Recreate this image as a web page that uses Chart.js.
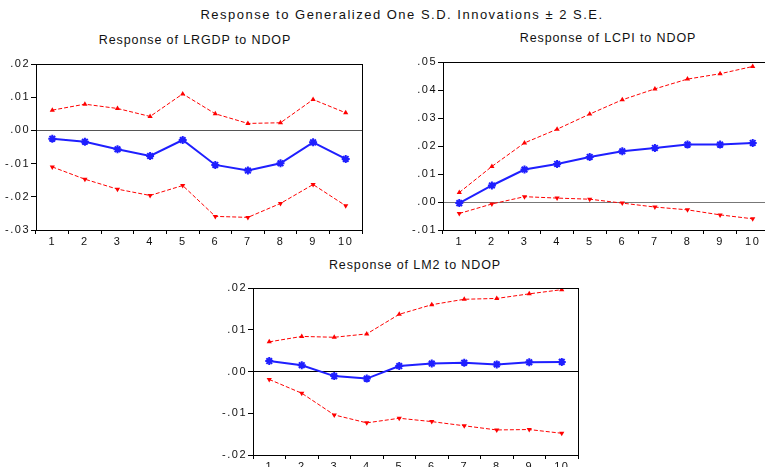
<!doctype html>
<html>
<head>
<title>Impulse responses to NDOP</title>
<script src="https://cdn.jsdelivr.net/npm/chart.js@4.4.1/dist/chart.umd.min.js"></script>
<style>
    body { margin: 0; background: #fff; font-family: "Liberation Sans", Arial, sans-serif; }
    #page { position: relative; width: 765px; height: 467px; overflow: hidden; color: #111; }
    .ttl { position: absolute; text-align: center; white-space: nowrap; }
    #mainTitle { left: 102px; top: 7px; width: 600px; font-size: 13px; letter-spacing: 1.5px; }
    .sub { width: 300px; font-size: 12.5px; letter-spacing: 0.9px; }
    canvas { position: absolute; }
</style>
</head>

<body>
<div id="page">
    <div id="mainTitle" class="ttl">Response to Generalized One S.D. Innovations &plusmn; 2 S.E.</div>
    <div class="ttl sub" style="left:45px;top:33px">Response of LRGDP to NDOP</div>
    <div class="ttl sub" style="left:458px;top:31px">Response of LCPI to NDOP</div>
    <div class="ttl sub" style="left:265px;top:258px">Response of LM2 to NDOP</div>
    <canvas id="c1" width="368" height="194" style="left:0px;top:56px"></canvas>
    <canvas id="c2" width="368" height="196" style="left:407px;top:54px"></canvas>
    <canvas id="c3" width="367" height="195" style="left:217px;top:280px"></canvas>
</div>
<script>
    // periods after the shock
    const periods = ['1', '2', '3', '4', '5', '6', '7', '8', '9', '10'];

    // LRGDP to NDOP
    const lrgdpResp  = [-0.0025, -0.0034, -0.0057, -0.0077, -0.0029, -0.0104, -0.0121, -0.0099, -0.0036, -0.0086];
    const lrgdpUpper = [0.0061, 0.0079, 0.0066, 0.0042, 0.0110, 0.0050, 0.0021, 0.0023, 0.0093, 0.0053];
    const lrgdpLower = [-0.0110, -0.0147, -0.0177, -0.0196, -0.0166, -0.0259, -0.0262, -0.0220, -0.0163, -0.0227];
    const lrgdpRange = [-0.03, 0.02];

    // LCPI to NDOP
    const lcpiResp  = [-0.0004, 0.0059, 0.0116, 0.0136, 0.0161, 0.0181, 0.0193, 0.0205, 0.0205, 0.0211];
    const lcpiUpper = [0.0034, 0.0127, 0.0211, 0.0260, 0.0314, 0.0365, 0.0404, 0.0439, 0.0458, 0.0484];
    const lcpiLower = [-0.0041, -0.0007, 0.0019, 0.0014, 0.0010, -0.0004, -0.0018, -0.0028, -0.0046, -0.0060];
    const lcpiRange = [-0.01, 0.05];

    // LM2 to NDOP
    const lm2Resp  = [0.0025, 0.0015, -0.0011, -0.0017, 0.0013, 0.0019, 0.0021, 0.0017, 0.0022, 0.0023];
    const lm2Upper = [0.0071, 0.0084, 0.0082, 0.0090, 0.0137, 0.0160, 0.0173, 0.0175, 0.0186, 0.0196];
    const lm2Lower = [-0.0019, -0.0052, -0.0104, -0.0123, -0.0112, -0.0120, -0.0130, -0.0140, -0.0139, -0.0148];
    const lm2Range = [-0.02, 0.02];

    const tickFont = { family: '"Liberation Sans", Arial, sans-serif', size: 11 };

    // eviews style ".01" / "-.02"
    function fmt(v) {
        if (Math.abs(v) < 1e-9) return '.00';
        const s = Math.abs(v).toFixed(2).replace(/^0/, '');
        return (v < 0 ? '-' : '') + s;
    }

    // wide eviews lettering for the tick labels
    const spacingPlugin = {
        id: 'spacing',
        beforeDraw(chart) { chart.ctx.letterSpacing = '1.5px'; }
    };

    // full box round the plot
    const boxPlugin = {
        id: 'box',
        afterDatasetsDraw(chart) {
            const a = chart.chartArea;
            const ctx = chart.ctx;
            ctx.save();
            ctx.strokeStyle = '#000';
            ctx.lineWidth = 1;
            ctx.strokeRect(Math.round(a.left) + 0.5, Math.round(a.top) + 0.5,
                           Math.round(a.right - a.left), Math.round(a.bottom - a.top));
            ctx.restore();
        }
    };

    function makeChart(id, resp, upper, lower, range, zeroColor) {
        const ctx = document.getElementById(id);
        return new Chart(ctx, {
            type: 'line',
            data: {
                labels: periods,
                datasets: [{
                    data: upper,
                    borderColor: '#ff0000',
                    backgroundColor: '#ff0000',
                    borderWidth: 1,
                    borderDash: [4, 2],
                    pointStyle: 'triangle',
                    pointRadius: 3,
                    pointBorderWidth: 0,
                    order: 2
                }, {
                    data: lower,
                    borderColor: '#ff0000',
                    backgroundColor: '#ff0000',
                    borderWidth: 1,
                    borderDash: [4, 2],
                    pointStyle: 'triangle',
                    pointRotation: 180,
                    pointRadius: 3,
                    pointBorderWidth: 0,
                    order: 2
                }, {
                    data: resp,
                    borderColor: '#1f1fff',
                    backgroundColor: '#1f1fff',
                    borderWidth: 2,
                    pointStyle: 'star',
                    pointRadius: 4,
                    pointBorderWidth: 2,
                    order: 1
                }]
            },
            options: {
                responsive: false,
                animation: false,
                devicePixelRatio: 1,
                layout: { padding: { top: 8, right: 4, bottom: 0, left: 0 } },
                plugins: {
                    legend: { display: false },
                    tooltip: { enabled: false },
                    title: { display: false }
                },
                scales: {
                    x: {
                        offset: true,
                        grid: { display: true, drawOnChartArea: false, offset: true, tickLength: 4, tickColor: '#000' },
                        border: { color: '#000' },
                        ticks: { color: '#111', font: tickFont, padding: 1, maxRotation: 0 },
                        afterFit: s => { s.height = 20; }
                    },
                    y: {
                        min: range[0],
                        max: range[1],
                        grid: {
                            drawOnChartArea: true,
                            tickLength: 5,
                            tickColor: '#000',
                            color: c => Math.abs(c.tick.value) < 1e-9 ? zeroColor : 'rgba(0,0,0,0)'
                        },
                        border: { color: '#000' },
                        ticks: { stepSize: 0.01, color: '#111', font: tickFont, padding: 1, callback: fmt },
                        afterFit: s => { s.width = 36; }
                    }
                }
            },
            plugins: [spacingPlugin, boxPlugin]
        });
    }

    makeChart('c1', lrgdpResp, lrgdpUpper, lrgdpLower, lrgdpRange, '#555');
    makeChart('c2', lcpiResp, lcpiUpper, lcpiLower, lcpiRange, '#777');
    makeChart('c3', lm2Resp, lm2Upper, lm2Lower, lm2Range, '#000');
</script>
</body>
</html>
